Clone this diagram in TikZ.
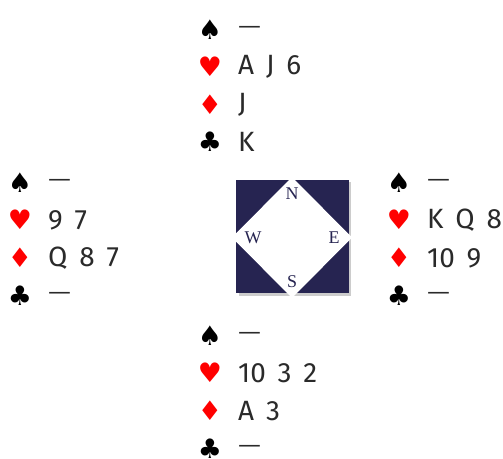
\documentclass[tikz,border=0pt]{standalone}
\usepackage{fontspec}
\setmainfont{Fira Sans}[WordSpace={1.6}]
\newfontfamily\symfont{DejaVu Sans}
\newfontfamily\cmpfont{Liberation Serif}
\definecolor{navy}{HTML}{262451}
\definecolor{ink}{HTML}{2A2A2A}
\definecolor{suitred}{HTML}{FF0000}
\tikzset{
  suitsym/.style={inner sep=0pt, font=\symfont\fontsize{27}{27}\selectfont, anchor=center},
  cardtxt/.style={inner sep=0pt, anchor=west, text=ink, font=\fontsize{28}{28}\selectfont},
  voidtxt/.style={inner sep=0pt, anchor=west, text=ink, font=\symfont\fontsize{23}{23}\selectfont},
  redsuit/.style={suitsym, text=suitred},
  blacksuit/.style={suitsym, text=black},
  cmpletter/.style={inner sep=0pt, text=navy, font=\cmpfont\fontsize{18}{18}\selectfont},
}
\begin{document}
\begin{tikzpicture}[x=1bp,y=-1bp]
\useasboundingbox (0,0) rectangle (503,459);
% North
\node[blacksuit] (ns) at (210,30) {♠};
\node[voidtxt] (nst) at (238,30) {—};
\node[redsuit] (nh) at (210,67) {♥};
\node[cardtxt] (nht) at (238,67) {A J 6};
\node[redsuit] (nd) at (210,105) {♦};
\node[cardtxt] (ndt) at (238,105) {J};
\node[blacksuit] (nc) at (210,142) {♣};
\node[cardtxt] (nct) at (238,142) {K};
% West
\node[blacksuit] (ws) at (20,183) {♠};
\node[voidtxt] (wst) at (48,183) {—};
\node[redsuit] (wh) at (20,220) {♥};
\node[cardtxt] (wht) at (48,220) {9 7};
\node[redsuit] (wd) at (20,258) {♦};
\node[cardtxt] (wdt) at (48,258) {Q 8 7};
\node[blacksuit] (wc) at (20,296) {♣};
\node[voidtxt] (wct) at (48,296) {—};
% East
\node[blacksuit] (es) at (399,183) {♠};
\node[voidtxt] (est) at (427,183) {—};
\node[redsuit] (eh) at (399,220) {♥};
\node[cardtxt] (eht) at (427,220) {K Q 8};
\node[redsuit] (ed) at (399,258) {♦};
\node[cardtxt] (edt) at (427,258) {10 9};
\node[blacksuit] (ec) at (399,296) {♣};
\node[voidtxt] (ect) at (427,296) {—};
% South
\node[blacksuit] (ss) at (210,336) {♠};
\node[voidtxt] (sst) at (238,336) {—};
\node[redsuit] (sh) at (210,373) {♥};
\node[cardtxt] (sht) at (238,373) {10 3 2};
\node[redsuit] (sd) at (210,411) {♦};
\node[cardtxt] (sdt) at (238,411) {A 3};
\node[blacksuit] (sc) at (210,449) {♣};
\node[voidtxt] (sct) at (238,449) {—};
% Compass
\fill[black!40, opacity=0.5] (238.5,182.5) rectangle (351,296);
\fill[navy] (235.5,180) rectangle (348.5,293);
\fill[white] (292,177) -- (352,237.5) -- (292,298) -- (232,237.5) -- cycle;
\node[cmpletter] (cn) at (292,194) {N};
\node[cmpletter] (cw) at (253,238) {W};
\node[cmpletter] (ce) at (334,238) {E};
\node[cmpletter] (cs) at (292,282) {S};
\end{tikzpicture}
\end{document}
